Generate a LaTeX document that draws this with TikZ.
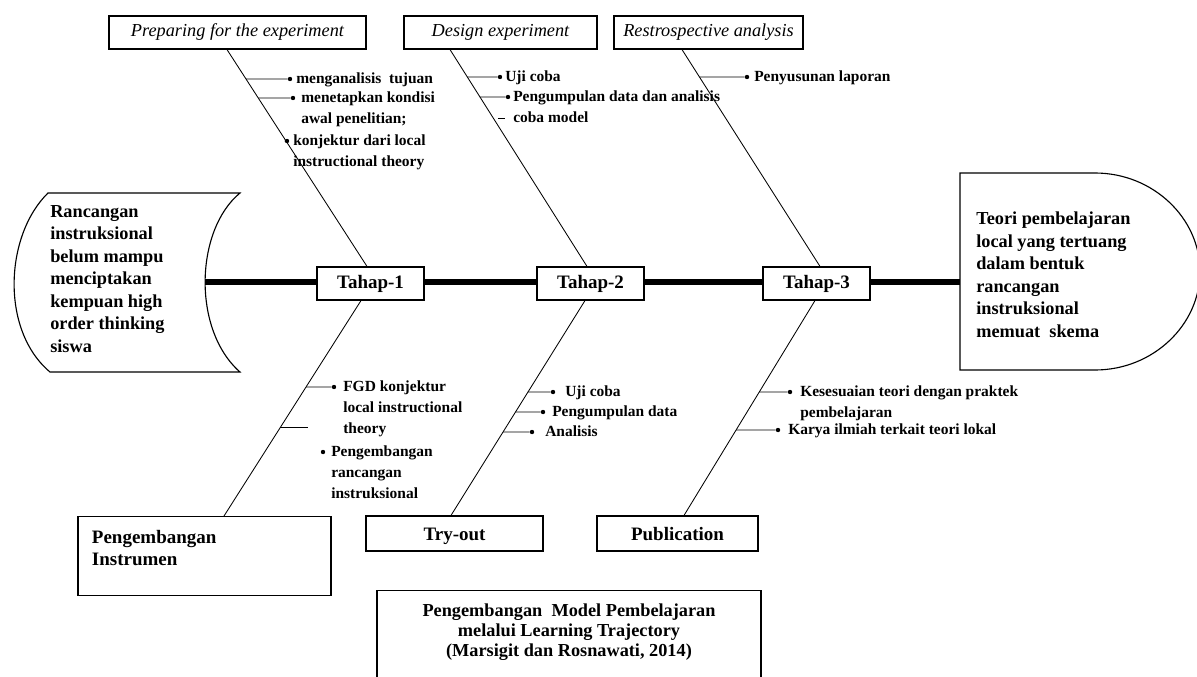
\documentclass[tikz,border=0pt]{standalone}
\usepackage{fontspec}
\setmainfont{Liberation Serif}
\usetikzlibrary{calc}

\newcommand{\shapefont}{\fontsize{13}{16}\selectfont\bfseries}
\newcommand{\stagefont}{\fontsize{13.5}{15}\selectfont\bfseries}
\newcommand{\phasefont}{\fontsize{13}{15}\selectfont\itshape}
\newcommand{\itemfont}{\fontsize{11}{15}\selectfont\bfseries}

\begin{document}
\begin{tikzpicture}[x=0.025cm, y=-0.025cm,
    phase/.style={draw, line width=0.8pt, minimum height=0.825cm, inner sep=0pt, font=\phasefont},
    stage/.style={draw, line width=0.8pt, fill=white, minimum width=2.675cm, minimum height=0.825cm, inner sep=0pt, font=\stagefont},
    outbox/.style={draw, line width=0.8pt, inner sep=0pt, font=\fontsize{13.5}{16}\selectfont\bfseries},
    dot/.style={circle, fill, inner sep=0pt, minimum size=0.11cm},
    item/.style={anchor=north west, inner sep=0pt, align=left, font=\itemfont},
    bone/.style={line width=0.6pt},
    tick/.style={line width=0.6pt}]
  \useasboundingbox (0,0) rectangle (1197,677);

  % Problem (left) and result (right)
  \draw[line width=0.8pt] (48,193) -- (240,193) .. controls (195,230) and (192,330) .. (240,372)
    -- (50,372) .. controls (0,330) and (5,235) .. (48,193) -- cycle;
  \node[anchor=north west, inner sep=0pt, align=left, font=\shapefont] (cause) at (50,205)
    {Rancangan\\instruksional\\belum mampu\\menciptakan\\kempuan high\\order thinking\\siswa};
  \draw[line width=0.8pt] (960,173) -- (1095,173) .. controls (1153,173) and (1200,218) .. (1200,271.5)
    .. controls (1200,325) and (1153,370) .. (1095,370) -- (960,370) -- cycle;
  \node[anchor=north west, inner sep=0pt, align=left, font=\shapefont] (effect) at (976,212)
    {Teori pembelajaran\\local yang tertuang\\dalam bentuk\\rancangan\\instruksional\\memuat\ \ skema};

  % Spine
  \coordinate (sp0) at (205,282);
  \coordinate (sp1) at (960,282);
  \draw[line width=4.5pt] (sp0) -- (sp1);

  % Phases on top
  \node[phase, minimum width=6.425cm] (prep) at (237.5,32.5) {Preparing for the experiment};
  \node[phase, minimum width=4.825cm] (design) at (500.5,32.5) {Design experiment};
  \node[phase, minimum width=4.725cm] (retro) at (708.5,32.5) {Restrospective analysis};

  % Stages on the spine
  \node[stage] (t1) at (370.5,283.5) {Tahap-1};
  \node[stage] (t2) at (590.5,283.5) {Tahap-2};
  \node[stage] (t3) at (816.5,283.5) {Tahap-3};

  % Outputs below
  \node[outbox, anchor=north, minimum width=6.325cm, inner ysep=0.335cm, text depth=0.965cm, text width=5.625cm, align=left] (instr) at (204.5,516) {Pengembangan\\Instrumen};
  \node[outbox, minimum width=4.425cm, minimum height=0.875cm, text height=10pt, text depth=0pt] (tryout) at (454.5,533.5) {Try-out};
  \node[outbox, minimum width=4.025cm, minimum height=0.875cm, text height=10pt, text depth=0pt] (pub) at (677.5,533.5) {Publication};

  % Title
  \node[outbox, anchor=north, minimum width=9.6cm, inner ysep=0.335cm, text depth=2cm, align=center,
    font=\fontsize{13}{14.2}\selectfont\bfseries] (title) at (569,590)
    {Pengembangan\ \ Model Pembelajaran\\melalui Learning Trajectory\\(Marsigit\ dan Rosnawati, 2014)};

  % Bones
  \coordinate (p1) at ($(prep.south)+(-10.5,0)$);
  \coordinate (q1) at ($(t1.north)+(-3.5,0)$);
  \coordinate (p2) at ($(design.south)+(-50.5,0)$);
  \coordinate (q2) at ($(t2.north)+(-3.5,0)$);
  \coordinate (p3) at ($(retro.south)+(-26.5,0)$);
  \coordinate (q3) at ($(t3.north)+(3.5,0)$);
  \coordinate (p4) at ($(t1.south)+(-9.5,0)$);
  \coordinate (q4) at ($(instr.north)+(19.5,0)$);
  \coordinate (p5) at ($(t2.south)+(-5.5,0)$);
  \coordinate (q5) at ($(tryout.north)+(-3.5,0)$);
  \coordinate (p6) at ($(t3.south)+(-1.5,0)$);
  \coordinate (q6) at ($(pub.north)+(6.5,0)$);
  \draw[bone] (p1) -- (q1);
  \draw[bone] (p2) -- (q2);
  \draw[bone] (p3) -- (q3);
  \draw[bone] (p4) -- (q4);
  \draw[bone] (p5) -- (q5);
  \draw[bone] (p6) -- (q6);

  % Tahap-1, top
  \node[dot] (b1) at (290,79) {};
  \node[item] (m1) at (296,72) {menganalisis\ \ tujuan};
  \node[dot] (b2) at (293,98) {};
  \node[item] (m2) at (301,91) {menetapkan kondisi\\awal penelitian;};
  \node[dot] (b3) at (287,141) {};
  \node[item] (m3) at (293,134) {konjektur dari local\\instructional theory};
  \draw[tick] (intersection of p1--q1 and b1.west--b1.east) -- (b1);
  \draw[tick] (intersection of p1--q1 and b2.west--b2.east) -- (b2);
  \draw[tick] (intersection of p1--q1 and b3.west--b3.east) -- (b3);

  % Tahap-2, top
  \node[dot] (b4) at (500,77) {};
  \node[item] (m4) at (505,70) {Uji coba};
  \node[dot] (b5) at (508,97) {};
  \node[item] (m5) at (513,90) {Pengumpulan data dan analisis\\coba model};
  \draw[tick] (intersection of p2--q2 and b4.west--b4.east) -- (b4);
  \draw[tick] (intersection of p2--q2 and b5.west--b5.east) -- (b5);
  \coordinate (s2) at (498,118);
  \draw[tick] (s2) -- ++(7,0);

  % Tahap-3, top
  \node[dot] (b6) at (747,77) {};
  \node[item] (m6) at (754,70) {Penyusunan laporan};
  \draw[tick] (intersection of p3--q3 and b6.west--b6.east) -- (b6);

  % Tahap-1, bottom
  \node[dot] (b7) at (334,387) {};
  \node[item] (m7) at (343,380) {FGD konjektur\\local instructional\\theory};
  \node[dot] (b8) at (323,452) {};
  \node[item] (m8) at (331,445) {Pengembangan\\rancangan\\instruksional};
  \draw[tick] (intersection of p4--q4 and b7.west--b7.east) -- (b7);
  \path (p4) -- (q4) coordinate[pos=0.59] (s1);
  \coordinate (s1e) at (308,427);
  \draw[tick] (s1) -- (s1 -| s1e);

  % Tahap-2, bottom
  \node[dot] (b9) at (553,392) {};
  \node[item] (m9) at (565,385) {Uji coba};
  \node[dot] (b10) at (543,412) {};
  \node[item] (m10) at (552,405) {Pengumpulan data};
  \node[dot] (b11) at (532,432) {};
  \node[item] (m11) at (545,425) {Analisis};
  \draw[tick] (intersection of p5--q5 and b9.west--b9.east) -- (b9);
  \draw[tick] (intersection of p5--q5 and b10.west--b10.east) -- (b10);
  \draw[tick] (intersection of p5--q5 and b11.west--b11.east) -- (b11);

  % Tahap-3, bottom
  \node[dot] (b12) at (790,392) {};
  \node[item] (m12) at (800,385) {Kesesuaian teori dengan praktek\\pembelajaran};
  \node[dot] (b13) at (778,430) {};
  \node[item] (m13) at (788,423) {Karya ilmiah terkait teori lokal};
  \draw[tick] (intersection of p6--q6 and b12.west--b12.east) -- (b12);
  \draw[tick] (intersection of p6--q6 and b13.west--b13.east) -- (b13);
\end{tikzpicture}
\end{document}
